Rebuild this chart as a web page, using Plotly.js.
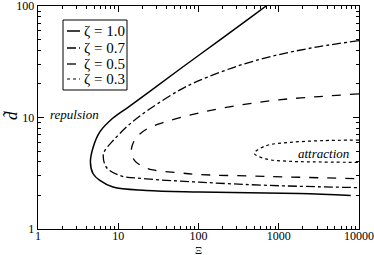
<!DOCTYPE html>
<html>
<head>
<meta charset="utf-8">
<script src="https://cdn.plot.ly/plotly-3.0.1.min.js"></script>
<style>html,body{margin:0;padding:0;background:#fff;}#chart{width:374px;height:255px;}</style>
</head>
<body>
<div id="chart"></div>
<script>
// ζ = 1.0 (solid): upper branch -> tip -> lower branch
const xi_10 = [697, 430, 180, 60, 26, 13.9, 8.6, 5.9, 4.86, 4.5, 4.86, 5.9, 8.6, 22.4, 103, 1780, 7900];
const d_10  = [100, 77.4, 48.9, 27.5, 17.6, 12.65, 9.9, 7.43, 5.39, 3.97, 3.13, 2.73, 2.38, 2.22, 2.15, 2.08, 2.0];
// ζ = 0.7 (dash-dot)
const xi_07 = [10000, 3185, 1014, 323, 103, 58, 24.6, 13.9, 8.6, 6.8, 6.5, 7.1, 10.4, 22.4, 103, 760, 10000];
const d_07  = [48.9, 43.2, 36.7, 29.3, 21.5, 17.6, 11.9, 8.72, 6.19, 5.04, 4.55, 3.58, 3.02, 2.82, 2.63, 2.46, 2.35];
// ζ = 0.5 (dashed)
const xi_05 = [10000, 3185, 1000, 323, 103, 36, 22.4, 16.8, 14.9, 14.6, 16.0, 20.3, 27, 58, 103, 760, 10000];
const d_05  = [16.3, 15.4, 14.4, 12.9, 11.0, 9.0, 7.85, 6.6, 5.58, 4.87, 4.1, 3.63, 3.39, 3.19, 3.08, 2.96, 2.82];
// ζ = 0.3 (dotted)
const xi_03 = [10000, 3500, 1350, 690, 496, 690, 1350, 2630, 10000];
const d_03  = [6.27, 6.2, 5.97, 5.58, 4.77, 4.25, 4.05, 4.0, 3.96];

const seriesNames = ["ζ = 1.0", "ζ = 0.7", "ζ = 0.5", "ζ = 0.3"];
const xTickVals = [1, 10, 100, 1000, 10000];
const xTickText = ["1", "10", "100", "1000", "10000"];
const yTickVals = [1, 10, 100];
const yTickText = ["1", "10", "100"];
const regionLabels = ["repulsion", "attraction"];
const regionX = [2.88, 3570];
const regionY = [10.7, 4.77];

const W = 374, H = 255, ML = 38, MR = 15, MT = 6, MB = 26;
const PW = W - ML - MR, PH = H - MT - MB;
const px = v => (v - ML) / PW;
const py = v => (H - MB - v) / PH;

const serif = "Liberation Serif";
const dashes = ["solid", "dashdot", "dash", "dot"];
const widths = [1.5, 1.3, 1.3, 1.2];
const xs = [xi_10, xi_07, xi_05, xi_03];
const ys = [d_10, d_07, d_05, d_03];

const traces = xs.map((x, i) => ({
  x: x, y: ys[i], type: "scatter", mode: "lines", name: seriesNames[i],
  line: {color: "black", width: widths[i], dash: dashes[i], shape: "spline", smoothing: 1},
  showlegend: false, hoverinfo: "skip"
}));

function minorVals(maxDec) {
  const out = [];
  for (let e = 0; e < maxDec; e++) for (let k = 2; k <= 9; k++) out.push(k * Math.pow(10, e));
  return out;
}

// manual legend
const legRows = [31, 48, 64, 79];
const shapes = [{
  type: "rect", xref: "paper", yref: "paper",
  x0: px(63), x1: px(127), y0: py(90), y1: py(20),
  line: {color: "black", width: 1}, fillcolor: "white"
}];
const annotations = [];
legRows.forEach((r, i) => {
  shapes.push({type: "line", xref: "paper", yref: "paper",
    x0: px(67), x1: px(80), y0: py(r), y1: py(r),
    line: {color: "black", width: widths[i], dash: dashes[i]}});
  annotations.push({xref: "paper", yref: "paper", x: px(82), y: py(r),
    xanchor: "left", yanchor: "middle", showarrow: false, text: seriesNames[i],
    font: {family: serif, size: 15, color: "black"}});
});
regionLabels.forEach((t, i) => {
  annotations.push({x: Math.log10(regionX[i]), y: Math.log10(regionY[i]), xref: "x", yref: "y",
    showarrow: false, text: "<i>" + t + "</i>", font: {family: serif, size: 13, color: "black"}});
});
annotations.push({xref: "paper", yref: "paper", x: px(198.5), y: py(250), showarrow: false,
  text: "Ξ", font: {family: serif, size: 11, color: "black"}, xanchor: "center", yanchor: "middle"});
annotations.push({xref: "paper", yref: "paper", x: px(11), y: py(116), showarrow: false,
  text: "<i>d̃</i>", textangle: -90, font: {family: serif, size: 17, color: "black"}, xanchor: "center", yanchor: "middle"});

const axisCommon = {
  type: "log", showgrid: false, zeroline: false, showline: true, linecolor: "black", linewidth: 1.3,
  mirror: "ticks", ticks: "inside", ticklen: 6, tickwidth: 1, tickcolor: "black",
  tickmode: "array", tickfont: {family: serif, size: 12, color: "black"}, ticklabeloverflow: "allow",
  minor: {ticks: "inside", ticklen: 3, tickwidth: 1, tickcolor: "black", showgrid: false}
};

const layout = {
  width: W, height: H, margin: {l: ML, r: MR, t: MT, b: MB, pad: 0},
  paper_bgcolor: "white", plot_bgcolor: "white", showlegend: false,
  font: {family: serif, color: "black"},
  xaxis: Object.assign({}, axisCommon, {range: [0, 4], tickvals: xTickVals, ticktext: xTickText,
    ticklabelstandoff: -5,
    minor: Object.assign({}, axisCommon.minor, {tickvals: minorVals(4)})}),
  yaxis: Object.assign({}, axisCommon, {range: [0, 2], tickvals: yTickVals, ticktext: yTickText,
    minor: Object.assign({}, axisCommon.minor, {tickvals: minorVals(2)})}),
  shapes: shapes, annotations: annotations
};

Plotly.newPlot("chart", traces, layout, {staticPlot: true, displayModeBar: false});
</script>
</body>
</html>
